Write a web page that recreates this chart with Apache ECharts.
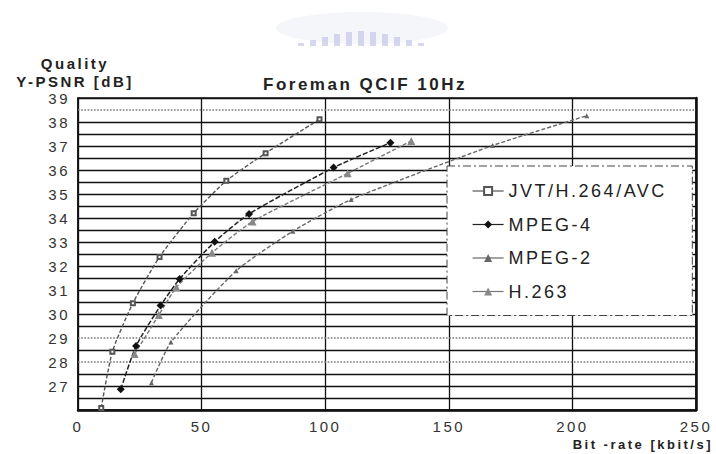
<!DOCTYPE html>
<html>
<head>
<meta charset="utf-8">
<script src="https://cdn.jsdelivr.net/npm/echarts@6/dist/echarts.min.js"></script>
<style>
  html, body { margin: 0; padding: 0; background: #fff; }
  #chart { width: 716px; height: 454px; }
  #chart text { letter-spacing: 2.5px; }
</style>
</head>
<body>
<div id="chart"></div>
<script>
// Rate–distortion curves, Foreman QCIF at 10 Hz
const seriesNames = ['JVT/H.264/AVC', 'MPEG-4', 'MPEG-2', 'H.263'];

const rateJVT  = [9.4, 13.9, 22.2, 33.0, 46.8, 60.0, 75.9, 97.7];
const psnrJVT  = [26.08, 28.43, 30.45, 32.38, 34.2, 35.55, 36.7, 38.11];

const rateMPEG4 = [17.3, 23.5, 33.4, 41.1, 55.3, 69.2, 103.4, 126.4];
const psnrMPEG4 = [26.86, 28.67, 30.35, 31.46, 33.01, 34.17, 36.1, 37.14];

const rateMPEG2 = [29.7, 37.6, 64.0, 86.9, 110.5, 167.7, 205.8];
const psnrMPEG2 = [27.14, 28.83, 31.8, 33.45, 34.77, 37.02, 38.26];

const rateH263 = [22.9, 32.7, 39.8, 54.2, 70.6, 109.1, 134.8];
const psnrH263 = [28.33, 29.96, 31.11, 32.55, 33.85, 35.86, 37.21];

const xTickLabels = ['0', '50', '100', '150', '200', '250'];
const yTickLabels = ['27', '28', '29', '30', '31', '32', '33', '34', '35', '36', '37', '38', '39'];

// horizontal levels drawn as dotted reference lines instead of solid grid lines
const dottedLevels = [28, 29, 38.5];

const Y_MIN = 26, Y_MAX = 39, Y_STEP = 0.5;
const FONT = '"Liberation Sans", Arial, sans-serif';

function zip(xs, ys) { return xs.map((x, i) => [x, ys[i]]); }

// one colour per horizontal grid line; dotted levels are left transparent
const gridColors = [];
for (let v = Y_MIN; v <= Y_MAX + 1e-9; v += Y_STEP) {
  const level = Math.round(v * 10) / 10;
  gridColors.push(dottedLevels.includes(level) ? 'rgba(0,0,0,0)' : '#111');
}

// faint emblem above the title
const emblemHeights = [3, 6, 9, 12, 14, 15, 14, 12, 9, 6, 3];
const emblem = [{
  type: 'ellipse', shape: { cx: 362, cy: 28, rx: 86, ry: 16 },
  style: { fill: '#f4f5fa', opacity: 0.9 }, silent: true
}].concat(emblemHeights.map((h, i) => ({
  type: 'rect', shape: { x: 298 + i * 12, y: 46 - h, width: 6, height: h },
  style: { fill: '#c3c8e6', opacity: 0.7 }, silent: true
})));

const chart = echarts.init(document.getElementById('chart'), null, { renderer: 'svg' });

const lineBase = { type: 'line', smooth: 0.2, z: 3 };

chart.setOption({
  backgroundColor: '#fff',
  animation: false,
  textStyle: { fontFamily: FONT },
  title: {
    text: 'Foreman QCIF 10Hz',
    left: 258, top: 71,
    textStyle: { fontFamily: FONT, fontSize: 17, fontWeight: 'bold', color: '#222' }
  },
  graphic: emblem,
  grid: {
    left: 78, top: 98, right: 20, bottom: 44,
    show: true, borderColor: '#111', borderWidth: 1.5, backgroundColor: 'transparent'
  },
  legend: {
    orient: 'vertical',
    left: 447, top: 166,
    data: seriesNames,
    itemWidth: 31, itemHeight: 10, itemGap: 15.5,
    padding: [16, 58, 15, 25],
    backgroundColor: '#fff',
    borderColor: '#444', borderWidth: 1, borderType: [8, 3, 2, 3],
    lineStyle: { type: 'solid', width: 1.2 },
    textStyle: { fontFamily: FONT, fontSize: 18, color: '#222' },
    z: 10
  },
  xAxis: {
    type: 'value', min: 0, max: 250, interval: 50,
    name: 'Bit -rate [kbit/s]', nameLocation: 'end', nameGap: 17,
    nameTextStyle: { fontFamily: FONT, fontSize: 13, fontWeight: 'bold', color: '#222',
                     align: 'right', verticalAlign: 'top', padding: [28, 0, 0, 0] },
    axisLine: { show: true, lineStyle: { color: '#111', width: 2.5 } },
    axisTick: { show: false },
    axisLabel: {
      margin: 9, fontFamily: FONT, fontSize: 15, color: '#333',
      formatter: v => xTickLabels.includes(String(v)) ? String(v) : ''
    },
    splitLine: { show: true, lineStyle: { color: '#111', width: 1.3 } }
  },
  yAxis: [{
    type: 'value', min: Y_MIN, max: Y_MAX, interval: Y_STEP,
    name: 'Quality\nY-PSNR [dB]', nameLocation: 'end', nameGap: 1,
    nameTextStyle: { fontFamily: FONT, fontSize: 15, fontWeight: 'bold', color: '#222',
                     align: 'center', verticalAlign: 'bottom', lineHeight: 18, padding: [0, 0, 0, -6] },
    axisLine: { show: true, lineStyle: { color: '#111', width: 1.5 } },
    axisTick: { show: false },
    axisLabel: {
      margin: 8, fontFamily: FONT, fontSize: 15, color: '#333', padding: [6, 0, 0, 0],
      formatter: v => yTickLabels.includes(String(v)) ? String(v) : ''
    },
    splitLine: { show: true, lineStyle: { color: gridColors, width: 1.3 } }
  }, {
    type: 'value', min: Y_MIN, max: Y_MAX, position: 'right',
    axisLine: { show: true, lineStyle: { color: '#111', width: 2.5 } },
    axisTick: { show: false }, axisLabel: { show: false }, splitLine: { show: false }
  }],
  series: [
    Object.assign({}, lineBase, {
      name: seriesNames[0], data: zip(rateJVT, psnrJVT),
      symbol: 'emptyRect', symbolSize: 4,
      itemStyle: { color: '#555', borderWidth: 1 },
      lineStyle: { color: '#555', width: 1.4, type: [4, 2] },
      markLine: {
        silent: true, symbol: 'none', label: { show: false }, z: 1,
        lineStyle: { color: '#777', width: 1.6, type: 'dotted' },
        data: dottedLevels.map(v => ({ yAxis: v }))
      }
    }),
    Object.assign({}, lineBase, {
      name: seriesNames[1], data: zip(rateMPEG4, psnrMPEG4),
      symbol: 'diamond', symbolSize: 8,
      itemStyle: { color: '#111' },
      lineStyle: { color: '#222', width: 1.5, type: [5, 2] }
    }),
    Object.assign({}, lineBase, {
      name: seriesNames[2], data: zip(rateMPEG2, psnrMPEG2),
      symbol: 'triangle', symbolSize: 5,
      itemStyle: { color: '#666' },
      lineStyle: { color: '#666', width: 1.4, type: [4, 2] }
    }),
    Object.assign({}, lineBase, {
      name: seriesNames[3], data: zip(rateH263, psnrH263),
      symbol: 'triangle', symbolSize: 8,
      itemStyle: { color: '#888' },
      lineStyle: { color: '#777', width: 1.4, type: [4, 2] }
    })
  ]
});
</script>
</body>
</html>
